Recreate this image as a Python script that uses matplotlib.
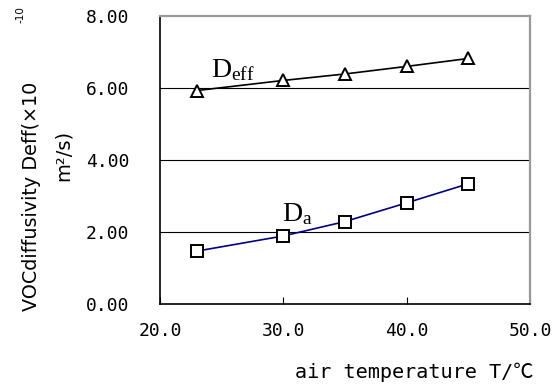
import matplotlib
matplotlib.use("Agg")
import matplotlib.pyplot as plt

plt.rcParams['mathtext.fontset'] = 'custom'
plt.rcParams['mathtext.rm'] = 'Liberation Serif'
plt.rcParams['mathtext.it'] = 'Liberation Serif:italic'

# data
temps = [23, 30, 35, 40, 45]
deff = [5.93, 6.21, 6.39, 6.60, 6.82]
da = [1.47, 1.89, 2.29, 2.81, 3.34]

x_ticks = [20.0, 30.0, 40.0, 50.0]
y_ticks = [0.0, 2.0, 4.0, 6.0, 8.0]

mono = ['DejaVu Sans Mono', 'Noto Sans CJK JP']

fig = plt.figure(figsize=(5.54, 3.87), dpi=100)
ax = fig.add_axes([160 / 554, 1 - 304 / 387, 370 / 554, 288 / 387])

# horizontal gridlines
for yv in y_ticks[1:-1]:
    ax.axhline(yv, color='black', linewidth=0.8, zorder=1)

ax.plot(temps, deff, color='black', linewidth=1.2, marker='^', markersize=9,
        markerfacecolor='white', markeredgecolor='black', markeredgewidth=1.4, zorder=3)
ax.plot(temps, da, color='#000080', linewidth=1.2, marker='s', markersize=8,
        markerfacecolor='white', markeredgecolor='black', markeredgewidth=1.4, zorder=3)

ax.text(24.1, 6.31, r'$\mathrm{D_{eff}}$', fontsize=20, ha='left', va='baseline')
ax.text(29.9, 2.31, r'$\mathrm{D_{a}}$', fontsize=20, ha='left', va='baseline')

ax.set_xlim(20, 50)
ax.set_ylim(0, 8)
ax.set_xticks(x_ticks)
ax.set_yticks(y_ticks)
ax.set_xticklabels([f'{v:.1f}' for v in x_ticks], family=mono, fontsize=13)
ax.set_yticklabels([f'{v:.2f}' for v in y_ticks], family=mono, fontsize=13)
ax.tick_params(axis='x', direction='in', length=5, width=0.8, pad=13)
ax.tick_params(axis='y', length=0, pad=22)

for side in ['left', 'bottom']:
    ax.spines[side].set_color('black')
    ax.spines[side].set_linewidth(1.2)
for side in ['top', 'right']:
    ax.spines[side].set_color('#999999')
    ax.spines[side].set_linewidth(1.6)

fig.text(533 / 554, 1 - 372 / 387, 'air temperature T/℃', family=mono, fontsize=14.5,
         ha='right', va='center')
fig.text(32 / 554, 1 - 196 / 387, 'VOCdiffusivity Deff(×10', fontsize=13.8,
         rotation=90, ha='center', va='center')
fig.text(63 / 554, 1 - 155 / 387, 'm²/s)', fontsize=14,
         rotation=90, ha='center', va='center')
fig.text(20 / 554, 1 - 15 / 387, '-10', fontsize=7.5,
         rotation=90, ha='center', va='center')

fig.savefig('out.png', dpi=100)
